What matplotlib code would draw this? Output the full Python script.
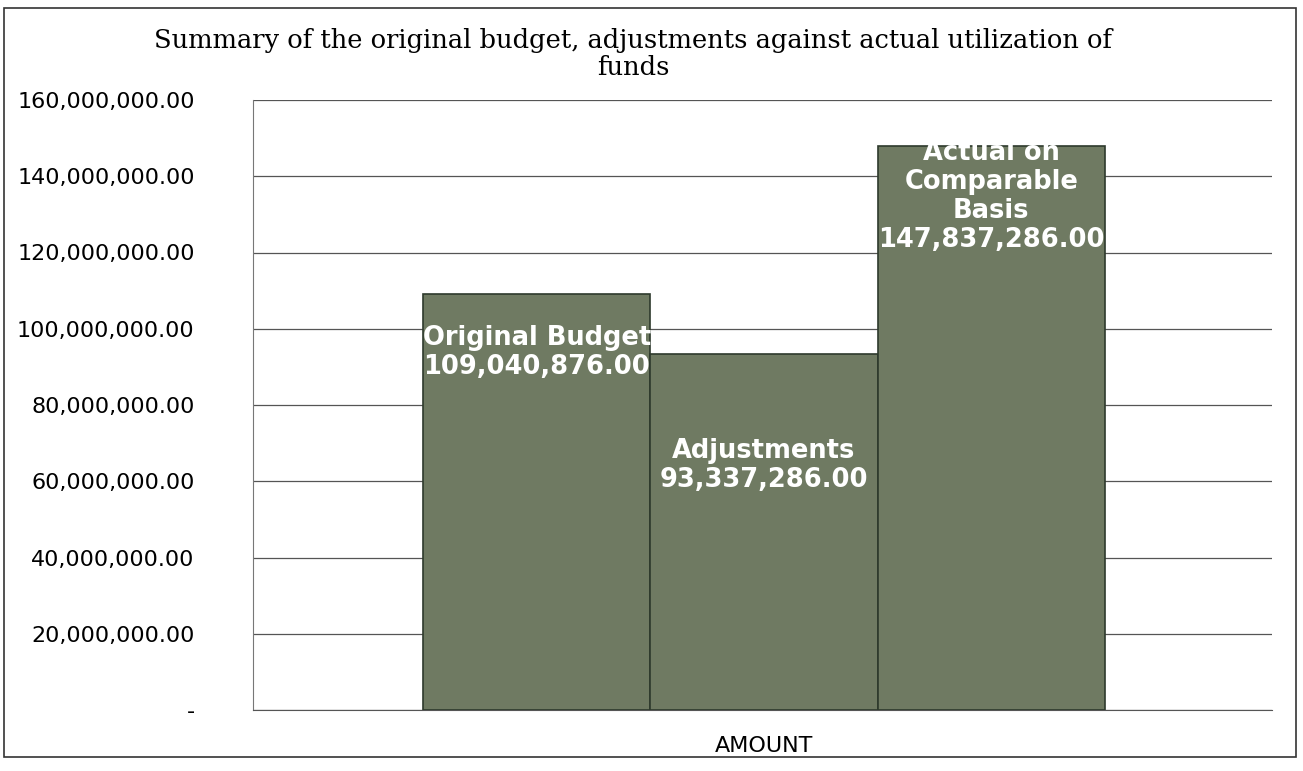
import matplotlib
matplotlib.use("Agg")
import matplotlib.pyplot as plt
import matplotlib.patches as patches
from matplotlib.ticker import FuncFormatter

# Chart data
categories = ["Original Budget", "Adjustments", "Actual on\nComparable\nBasis"]
amounts = [109040876.00, 93337286.00, 147837286.00]
x_label = "AMOUNT"
title = "Summary of the original budget, adjustments against actual utilization of\nfunds"

# label anchor heights (fraction of bar value) -- styling only
label_frac = [0.925, 0.765, 1.012]

fig = plt.figure(figsize=(13.03, 7.71), dpi=100)
ax = fig.add_axes([253 / 1303, 1 - 710 / 771, (1272 - 253) / 1303, 610 / 771])

positions = list(range(len(amounts)))
bars = ax.bar(positions, amounts, width=1.0, color="#6f7a62",
              edgecolor="#2e3a2c", linewidth=1.2, zorder=3)

for b, cat, val, frac in zip(bars, categories, amounts, label_frac):
    ax.text(b.get_x() + b.get_width() / 2, val * frac,
            f"{cat}\n{val:,.2f}", ha="center", va="top",
            color="white", fontsize=18.5, fontweight="bold", family="DejaVu Sans",
            linespacing=1.15, zorder=4)

ax.set_xlim(-1.248, 3.235)
ax.set_ylim(0, 160000000)
ax.set_yticks(range(0, 160000001, 20000000))
ax.yaxis.set_major_formatter(FuncFormatter(lambda v, p: "-" if v == 0 else f"{v:,.2f}"))
ax.set_xticks([1])
ax.set_xticklabels([x_label])
ax.tick_params(axis="x", length=0, pad=19, labelsize=16)
ax.tick_params(axis="y", length=0, pad=42, labelsize=16)

ax.grid(axis="y", color="#555555", linewidth=0.9, zorder=0)
for side in ["top", "right"]:
    ax.spines[side].set_visible(False)
ax.spines["left"].set_color("#777777")
ax.spines["bottom"].set_color("#555555")

fig.text(633 / 1303, 1 - 54 / 771, title, ha="center", va="center",
         fontsize=18.5, family="DejaVu Serif", linespacing=1.1)

# outer chart frame
frame = patches.Rectangle((4 / 1303, 1 - 757 / 771), 1292 / 1303, 749 / 771,
                          transform=fig.transFigure, fill=False,
                          edgecolor="#333333", linewidth=1.2)
fig.patches.append(frame)

fig.savefig("out.png", dpi=100)
